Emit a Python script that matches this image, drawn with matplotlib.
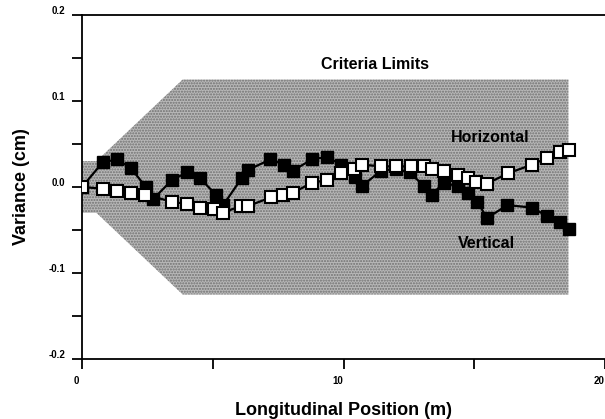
import numpy as np
import matplotlib
matplotlib.use("Agg")
from matplotlib import pyplot as plt
from matplotlib import transforms

# criteria limits envelope (half-width)
limit_x = [0.0, 0.55, 3.85, 18.6]
limit_half = [0.03, 0.03, 0.125, 0.125]

# vertical variance (filled squares)
vert_x = [0.0, 0.80, 1.35, 1.87, 2.44, 2.72, 3.44, 4.01, 4.52, 5.12, 5.40, 6.10,
          6.36, 7.20, 7.74, 8.06, 8.79, 9.36, 9.91, 10.45, 10.70, 11.44, 11.99,
          12.53, 13.08, 13.38, 13.83, 14.36, 14.76, 15.11, 15.49, 16.27, 17.21,
          17.80, 18.28, 18.62]
vert_y = [0.0, 0.029, 0.032, 0.022, 0.0, -0.014, 0.008, 0.017, 0.010, -0.009,
          -0.021, 0.010, 0.020, 0.032, 0.026, 0.019, 0.032, 0.035, 0.026, 0.012,
          0.001, 0.019, 0.021, 0.017, 0.001, -0.009, 0.005, 0.001, -0.007,
          -0.017, -0.036, -0.021, -0.024, -0.034, -0.041, -0.049]

# horizontal variance (open squares)
horiz_x = [0.0, 0.80, 1.35, 1.89, 2.40, 3.44, 4.01, 4.52, 5.06, 5.38, 6.08, 6.36,
           7.23, 7.70, 8.06, 8.79, 9.36, 9.91, 10.42, 10.70, 11.44, 12.01, 12.57,
           13.08, 13.38, 13.83, 14.38, 14.76, 15.08, 15.49, 16.30, 17.21, 17.80,
           18.28, 18.62]
horiz_y = [0.0, -0.002, -0.005, -0.007, -0.009, -0.017, -0.020, -0.024, -0.026,
           -0.030, -0.022, -0.022, -0.012, -0.009, -0.007, 0.005, 0.008, 0.016,
           0.021, 0.026, 0.024, 0.024, 0.024, 0.024, 0.021, 0.019, 0.014, 0.011,
           0.006, 0.004, 0.016, 0.026, 0.034, 0.041, 0.043]

plt.rcParams['font.family'] = ['Liberation Sans', 'DejaVu Sans']
plt.rcParams['hatch.linewidth'] = 1.0

fig = plt.figure(figsize=(6.05, 4.19), dpi=100)
ax = fig.add_axes([82 / 605, 1 - 359 / 419, 1 - 82 / 605, (359 - 15) / 419])

lx = np.array(limit_x)
lh = np.array(limit_half)
ax.fill_between(lx, -lh, lh, facecolor='#b8b8b8', edgecolor='#707070',
                hatch='......', linewidth=0, zorder=1)

ax.plot(vert_x, vert_y, color='black', lw=1.6, marker='s', ms=8,
        mfc='black', mec='black', zorder=3)
ax.plot(horiz_x, horiz_y, color='black', lw=1.6, marker='s', ms=8,
        mfc='white', mec='black', mew=1.5, zorder=4)

ax.text(11.2, 0.143, 'Criteria Limits', ha='center', va='center',
        fontsize=11.5, fontweight='bold')
ax.text(15.6, 0.057, 'Horizontal', ha='center', va='center',
        fontsize=11.5, fontweight='bold')
ax.text(15.45, -0.066, 'Vertical', ha='center', va='center',
        fontsize=11.5, fontweight='bold')

ax.set_xlim(0, 20)
ax.set_ylim(-0.2, 0.2)
ax.set_xticks([0, 10, 20])
ax.set_xticks([5, 15], minor=True)
ax.set_yticks([-0.2, -0.1, 0.0, 0.1, 0.2])
ax.set_yticks([-0.15, -0.05, 0.05, 0.15], minor=True)
ax.set_yticklabels(['-0.2', '-0.1', '0.0', '0.1', '0.2'])
ax.tick_params(which='both', direction='out', length=7, width=1.3,
               labelsize=7, pad=5)
for lab in ax.get_yticklabels():
    lab.set_fontweight('bold')
    lab.set_transform(lab.get_transform() +
                      transforms.ScaledTranslation(0, 5 / 100, fig.dpi_scale_trans))
for lab in ax.get_xticklabels():
    lab.set_fontweight('bold')
    lab.set_transform(lab.get_transform() +
                      transforms.ScaledTranslation(-6 / 100, 0, fig.dpi_scale_trans))

ax.spines['right'].set_visible(False)
for s in ['left', 'top', 'bottom']:
    ax.spines[s].set_linewidth(1.3)

ax.set_xlabel('Longitudinal Position (m)', fontsize=13, fontweight='bold',
              labelpad=12)
ax.set_ylabel('Variance (cm)', fontsize=13, fontweight='bold', labelpad=13)

fig.savefig('out.png', dpi=100)
